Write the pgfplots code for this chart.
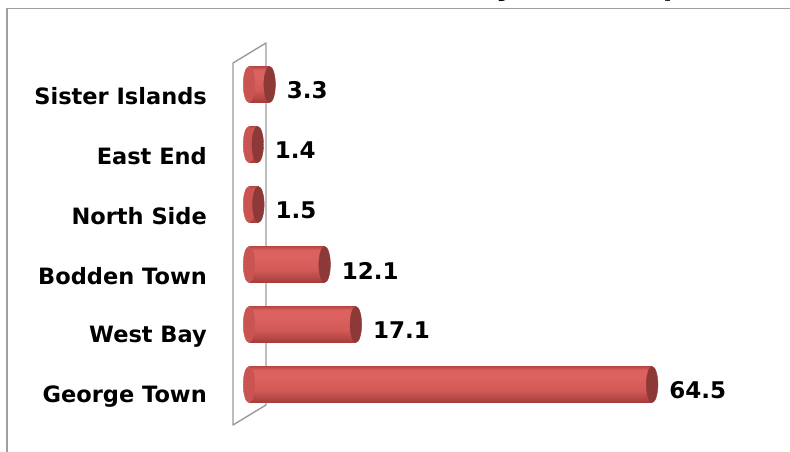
\documentclass[border=0pt]{standalone}
\usepackage{pgfplots}
\pgfplotsset{compat=1.18}
\usepackage{fontspec}
\setmainfont{DejaVu Sans}
\definecolor{barTop}{HTML}{B84846}
\definecolor{barHi}{HTML}{DB625F}
\definecolor{barMid}{HTML}{D25956}
\definecolor{barBot}{HTML}{A43D3B}
\definecolor{capR}{HTML}{8C3938}
\definecolor{capL}{HTML}{C95452}
\definecolor{frameGray}{HTML}{A0A0A0}
\definecolor{wallGray}{HTML}{9A9A9A}
\pgfdeclareverticalshading{cyl}{100bp}{color(0bp)=(barBot); color(25bp)=(barBot); color(42bp)=(barMid); color(60bp)=(barHi); color(70bp)=(barHi); color(75bp)=(barTop); color(100bp)=(barTop)}
\newcommand{\catfont}{\fontsize{22.5}{26}\selectfont\bfseries}
\newcommand{\valfont}{\fontsize{23}{26}\selectfont\bfseries}
\newcommand{\titlefont}{\fontsize{28}{32}\selectfont\bfseries}
\pgfplotsset{cylbar/.style={xbar, bar width=36pt, draw=none, fill=barMid, shading=cyl, shade}}
\begin{document}
\begin{tikzpicture}
\useasboundingbox (0,0) rectangle (790pt,452pt);
% frame
\draw[frameGray, line width=1.6pt] (7pt,0pt) -- (7pt,443.5pt) -- (791pt,443.5pt);
% clipped title (only descenders visible)
\node[font=\titlefont, anchor=base west, inner sep=0pt] at (260pt,456pt) {Labour Force by District (per cent)};
% back wall
\draw[wallGray, line width=1.4pt, line join=round] (233pt,27pt) -- (233pt,389pt) -- (266pt,409pt) -- (266pt,47pt) -- cycle;
\begin{axis}[
  at={(249pt,37.5pt)}, anchor=south west,
  scale only axis, width=500pt, height=360pt,
  xmin=0, xmax=80, ymin=-0.5, ymax=5.5,
  clip=false,
  axis line style={draw=none},
  xtick=\empty,
  ytick={0,1,2,3,4,5},
  yticklabels={George Town,West Bay,Bodden Town,North Side,East End,Sister Islands},
  major tick length=0pt,
  yticklabel style={font=\catfont, anchor=east, inner sep=0pt, xshift=-42pt, yshift=-12pt},
]
% left ends of cylinders
\addplot[only marks, mark=*, mark size=18pt, mark options={xscale=0.32, fill=capL, draw=capL}]
  coordinates {(0,0) (0,1) (0,2) (0,3) (0,4) (0,5)};
% cylinder bodies, one per district so each gets its own shading
\addplot[cylbar] coordinates {(64.5,0)};
\addplot[cylbar] coordinates {(17.1,1)};
\addplot[cylbar] coordinates {(12.1,2)};
\addplot[cylbar] coordinates {(1.5,3)};
\addplot[cylbar] coordinates {(1.4,4)};
\addplot[cylbar] coordinates {(3.3,5)};
% right end caps with value labels
\addplot[only marks, mark=*, mark size=18pt, mark options={xscale=0.32, fill=capR, draw=capR},
  point meta=x, nodes near coords,
  nodes near coords style={font=\valfont, anchor=west, inner sep=0pt, xshift=17pt, yshift=-6pt, text=black,
    /pgf/number format/assume math mode=true, /pgf/number format/fixed, /pgf/number format/precision=1, /pgf/number format/fixed zerofill}]
  coordinates {(64.5,0) (17.1,1) (12.1,2) (1.5,3) (1.4,4) (3.3,5)};
\end{axis}
\end{tikzpicture}
\end{document}
